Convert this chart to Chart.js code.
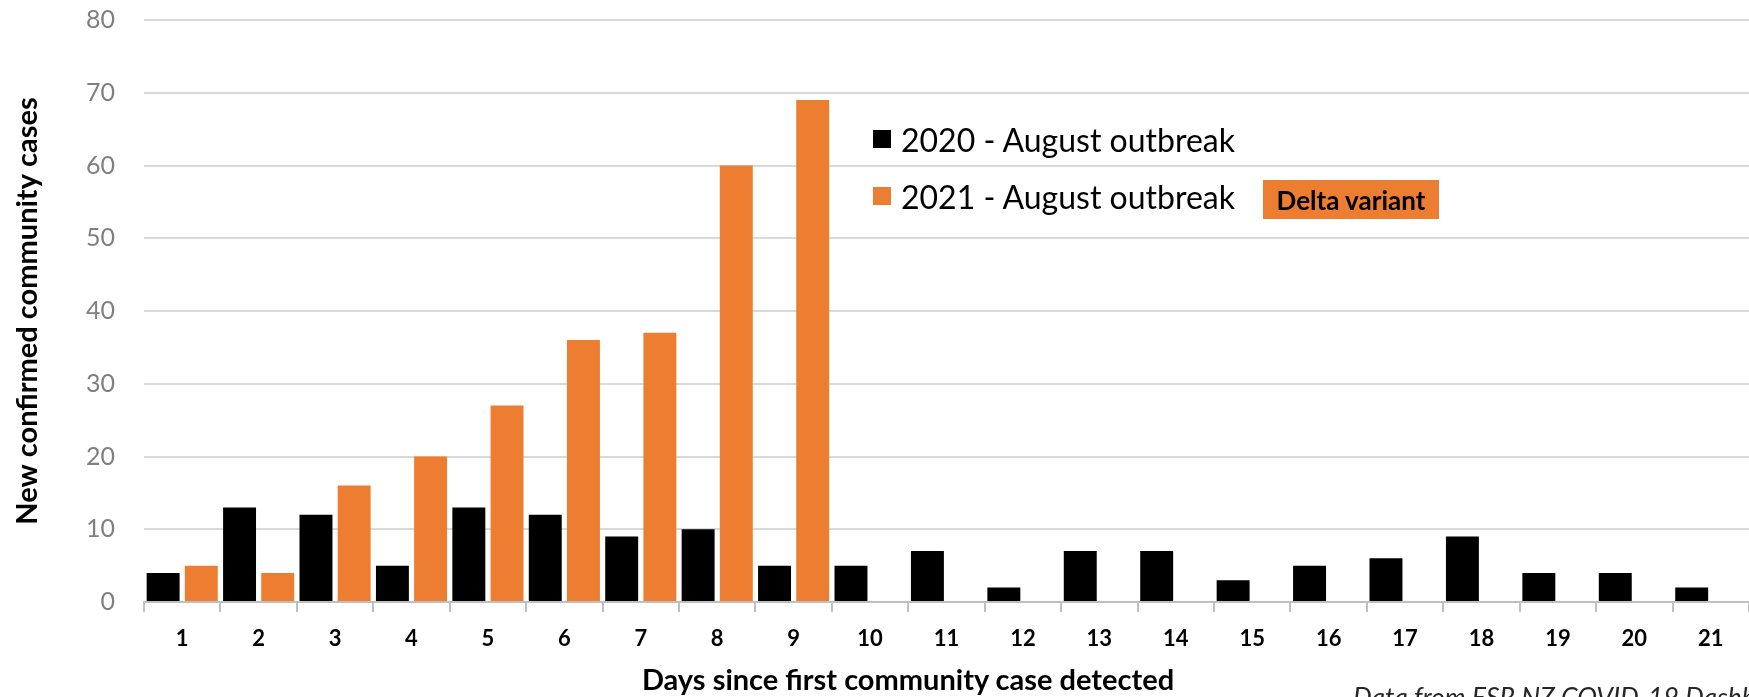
<!DOCTYPE html>
<html>
<head>
<meta charset="utf-8">
<script src="https://cdn.jsdelivr.net/npm/chart.js@4/dist/chart.umd.min.js"></script>
<style>
  html, body { margin: 0; padding: 0; background: #ffffff; overflow: hidden; }
  #wrap { position: relative; width: 1749px; height: 697px; overflow: hidden; font-family: Lato, "Open Sans", sans-serif; }
  canvas { position: absolute; left: 0; top: 0; }
  .legend { position: absolute; left: 873px; top: 0; color: #000; font-size: 32px; }
  .legend .row { position: absolute; left: 0; white-space: nowrap; display: flex; align-items: center; height: 40px; }
  .legend .sw { width: 18px; height: 18px; margin-right: 10px; display: inline-block; }
  #delta { position: absolute; left: 1263px; top: 180px; width: 176px; height: 39px; background: #ED7D31;
           font-weight: bold; font-size: 26px; color: #000; display: flex; align-items: center; justify-content: center; white-space: nowrap; }
  #xtitle { position: absolute; left: 0; width: 1816px; top: 661px; line-height: 35px; text-align: center; font-weight: bold; font-size: 29px; color: #000; white-space: nowrap; }
  #source { position: absolute; left: 1353px; top: 681px; font-style: italic; font-size: 26.5px; color: #262626; white-space: nowrap; }
</style>
</head>
<body>
<div id="wrap">
  <canvas id="c" width="1749" height="697"></canvas>
  <div class="legend" id="legend"></div>
  <div id="delta"></div>
  <div id="xtitle"></div>
  <div id="source"></div>
</div>
<script>
// ---- data ----
const days = ["1","2","3","4","5","6","7","8","9","10","11","12","13","14","15","16","17","18","19","20","21"];
const cases2020 = [4, 13, 12, 5, 13, 12, 9, 10, 5, 5, 7, 2, 7, 7, 3, 5, 6, 9, 4, 4, 2];
const cases2021 = [5, 4, 16, 20, 27, 36, 37, 60, 69, null, null, null, null, null, null, null, null, null, null, null, null];
const seriesNames = ["2020 - August outbreak", "2021 - August outbreak"];
const seriesColors = ["#000000", "#ED7D31"];
const yTicks = [0, 10, 20, 30, 40, 50, 60, 70, 80];
const yTitle = "New confirmed community cases";
const xTitle = "Days since first community case detected";
const annotationText = "Delta variant";
const sourceText = "Data from ESR NZ COVID-19 Dashboard";

// ---- chart ----
const ctx = document.getElementById('c');
new Chart(ctx, {
  type: 'bar',
  data: {
    labels: days,
    datasets: [
      { label: seriesNames[0], data: cases2020, backgroundColor: seriesColors[0], borderWidth: 0 },
      { label: seriesNames[1], data: cases2021, backgroundColor: seriesColors[1], borderWidth: 0 }
    ]
  },
  options: {
    responsive: false,
    animation: false,
    devicePixelRatio: 1,
    layout: { padding: { left: 0, right: 0, top: 20, bottom: 0 } },
    plugins: { legend: { display: false }, tooltip: { enabled: false } },
    datasets: { bar: { categoryPercentage: 0.999, barPercentage: 0.863 } },
    scales: {
      x: {
        offset: true,
        grid: { offset: true, drawOnChartArea: false, drawTicks: true, tickLength: 10, color: '#bfbfbf', lineWidth: 2 },
        border: { display: true, color: '#bfbfbf', width: 2 },
        ticks: { color: '#000', font: { family: 'Lato', size: 22, weight: 'bold' }, padding: 14, maxRotation: 0, autoSkip: false },
        afterFit: (s) => { s.height = 95; s.paddingLeft = 0; s.paddingRight = 0; }
      },
      y: {
        min: yTicks[0], max: yTicks[yTicks.length - 1],
        afterBuildTicks: (s) => { s.ticks = yTicks.map(v => ({ value: v })); },
        grid: { drawTicks: false, color: '#d9d9d9', lineWidth: 2 },
        border: { display: false },
        ticks: { color: '#7f7f7f', font: { family: 'Lato', size: 25 }, padding: 29 },
        title: { display: true, text: yTitle, color: '#000', font: { family: 'Lato', size: 29, weight: 'bold' }, padding: { top: 10, bottom: 0 } },
        afterFit: (s) => { s.width = 144; s.paddingTop = 0; s.paddingBottom = 0; }
      }
    }
  }
});

// ---- HTML overlays (legend, annotation, titles) ----
const legend = document.getElementById('legend');
const rowTops = [119, 176];
seriesNames.forEach((name, i) => {
  const row = document.createElement('div');
  row.className = 'row';
  row.style.top = rowTops[i] + 'px';
  const sw = document.createElement('span');
  sw.className = 'sw';
  sw.style.background = seriesColors[i];
  const tx = document.createElement('span');
  tx.textContent = name;
  row.appendChild(sw); row.appendChild(tx);
  legend.appendChild(row);
});
document.getElementById('delta').textContent = annotationText;
document.getElementById('xtitle').textContent = xTitle;
document.getElementById('source').textContent = sourceText;
</script>
</body>
</html>
